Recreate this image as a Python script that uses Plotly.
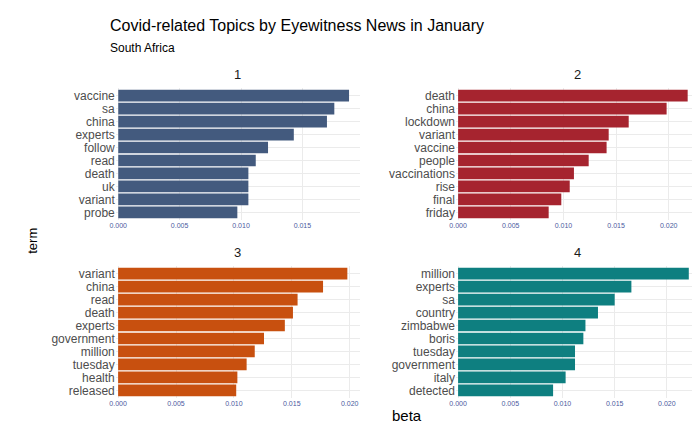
import plotly.graph_objects as go
from plotly.subplots import make_subplots

terms_1 = ["vaccine", "sa", "china", "experts", "follow", "read", "death", "uk", "variant", "probe"]
beta_1 = [0.0188, 0.0176, 0.0170, 0.0143, 0.0122, 0.0112, 0.0106, 0.0106, 0.0106, 0.0097]
terms_2 = ["death", "china", "lockdown", "variant", "vaccine", "people", "vaccinations", "rise", "final", "friday"]
beta_2 = [0.0218, 0.0198, 0.0162, 0.0143, 0.0141, 0.0124, 0.0110, 0.0106, 0.0098, 0.0086]
terms_3 = ["variant", "china", "read", "death", "experts", "government", "million", "tuesday", "health", "released"]
beta_3 = [0.0198, 0.0177, 0.0155, 0.0151, 0.0144, 0.0126, 0.0118, 0.0111, 0.0103, 0.0102]
terms_4 = ["million", "experts", "sa", "country", "zimbabwe", "boris", "tuesday", "government", "italy", "detected"]
beta_4 = [0.0221, 0.0166, 0.0150, 0.0134, 0.0122, 0.0120, 0.0112, 0.0112, 0.0103, 0.0091]

colors = ["#435A7E", "#A6242F", "#C8500F", "#0E7F80"]
panels = [(terms_1, beta_1), (terms_2, beta_2), (terms_3, beta_3), (terms_4, beta_4)]
ranges = [[-0.0002, 0.0197], [-0.0002, 0.0228], [-0.0002, 0.0209], [-0.0002, 0.0230]]

fig = make_subplots(rows=2, cols=2, subplot_titles=["1", "2", "3", "4"])
for i, (t, b) in enumerate(panels):
    r, c = i // 2 + 1, i % 2 + 1
    fig.add_trace(go.Bar(x=b[::-1], y=t[::-1], orientation="h", marker_color=colors[i],
                         marker_line_width=0, width=0.9, showlegend=False), row=r, col=c)
    fig.update_xaxes(range=ranges[i], tickvals=[0, 0.005, 0.01, 0.015, 0.02],
                     ticktext=["0.000", "0.005", "0.010", "0.015", "0.020"],
                     tickfont=dict(size=7, color="#4B5AA0"), gridcolor="#EBEBEB",
                     zeroline=False, showline=False, automargin=False, row=r, col=c)
    fig.update_yaxes(tickfont=dict(size=12, color="#4D4D4D"), gridcolor="#EBEBEB",
                     showgrid=True, ticks="", dtick=1, automargin=False,
                     range=[-0.6, 9.6], row=r, col=c)

xd = [[0.154, 0.503], [0.64, 0.986]]
yd = [[0.509, 0.815], [0.097, 0.403]]
fig.update_layout(
    xaxis=dict(domain=xd[0]), xaxis2=dict(domain=xd[1]),
    xaxis3=dict(domain=xd[0]), xaxis4=dict(domain=xd[1]),
    yaxis=dict(domain=yd[0]), yaxis2=dict(domain=yd[0]),
    yaxis3=dict(domain=yd[1]), yaxis4=dict(domain=yd[1]),
)
for i, a in enumerate(fig.layout.annotations):
    a.update(x=sum(xd[i % 2]) / 2, y=yd[i // 2][1] + 0.01, yanchor="bottom",
             font=dict(size=13, color="#1A1A1A"))

fig.add_annotation(text="Covid-related Topics by Eyewitness News in January", x=100 / 700, y=1 - 17 / 432,
                   xref="paper", yref="paper", xanchor="left", yanchor="middle", showarrow=False,
                   font=dict(size=16, color="#000000"))
fig.add_annotation(text="South Africa", x=100 / 700, y=1 - 40 / 432, xref="paper", yref="paper",
                   xanchor="left", yanchor="middle", showarrow=False, font=dict(size=12, color="#000000"))
fig.add_annotation(text="beta", x=0.57, y=1 - 418 / 432, xref="paper", yref="paper",
                   showarrow=False, font=dict(size=15, color="#000000"))
fig.add_annotation(text="term", x=15 / 700, y=0.46, xref="paper", yref="paper", textangle=-90,
                   showarrow=False, font=dict(size=13, color="#000000"))

fig.update_layout(width=700, height=432, margin=dict(l=0, r=0, t=0, b=0),
                  plot_bgcolor="white", paper_bgcolor="white", bargap=0.1,
                  font=dict(family="Liberation Sans, Arial"))
fig.write_html("out.html")
